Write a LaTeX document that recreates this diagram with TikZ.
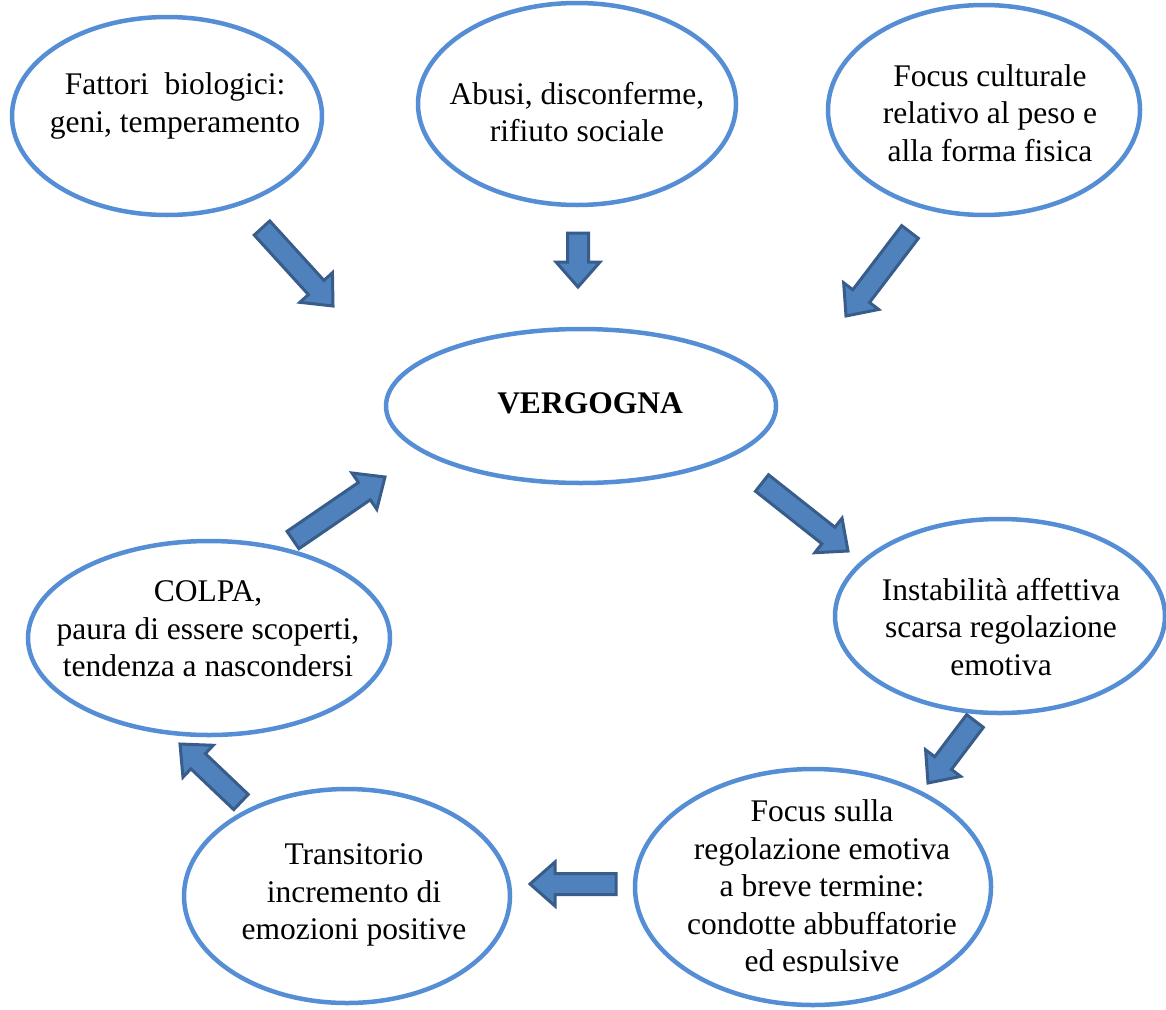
\documentclass[tikz,border=0pt]{standalone}
\usepackage{fontspec}
\setmainfont{Liberation Serif}
\usetikzlibrary{calc,shapes.geometric}
\definecolor{ringblue}{HTML}{558ED5}
\definecolor{arrowfill}{HTML}{4F81BD}
\definecolor{arrowedge}{HTML}{385D8A}
\tikzset{
  bubble/.style={ellipse, draw=ringblue, line width=4.5pt, fill=white, inner sep=0pt, outer sep=0pt},
  caption/.style={align=center, font=\fontsize{31.5}{37.5}\selectfont, inner sep=0pt},
  blockarrow/.style={draw=arrowedge, fill=arrowfill, line width=3pt, line join=miter},
}
% fat block arrow from #1 (tail centre) to #2 (tip)
\newcommand\blockarrow[2]{%
  \draw[blockarrow] let \p1=($(#2)-(#1)$), \n1={atan2(\y1,\x1)} in
    ($(#1)+({\n1+90}:10.5pt)$)
    -- ($(#2)+({\n1+180}:25pt)+({\n1+90}:10.5pt)$)
    -- ($(#2)+({\n1+180}:25pt)+({\n1+90}:22pt)$)
    -- (#2)
    -- ($(#2)+({\n1+180}:25pt)+({\n1-90}:22pt)$)
    -- ($(#2)+({\n1+180}:25pt)+({\n1-90}:10.5pt)$)
    -- ($(#1)+({\n1-90}:10.5pt)$) -- cycle;}
\begin{document}
\begin{tikzpicture}[x=1pt,y=-1pt]
\useasboundingbox (0,0) rectangle (1166,1009);
\fill[white] (0,0) rectangle (1166,1009);

% ellipses
\node[bubble, minimum width=310pt, minimum height=198pt] (bio) at (167,116) {};
\node[bubble, minimum width=318pt, minimum height=202pt] (abusi) at (577,104) {};
\node[bubble, minimum width=312pt, minimum height=210pt] (cult) at (984,110) {};
\node[bubble, minimum width=390pt, minimum height=154pt] (verg) at (581,406) {};
\node[bubble, minimum width=330pt, minimum height=194pt] (instab) at (1000,616) {};
\node[bubble, minimum width=356pt, minimum height=236pt] (focus) at (813,887) {};
\node[bubble, minimum width=326pt, minimum height=214pt] (trans) at (347,896) {};
\node[bubble, minimum width=362pt, minimum height=194pt] (colpa) at (209,638) {};

% texts
\node[caption] (tbio) at (175,106) {Fattori~ biologici:\\geni, temperamento};
\node[caption] (tabusi) at (577,112) {Abusi, disconferme,\\rifiuto sociale};
\node[caption] (tcult) at (990,113) {Focus culturale\\relativo al peso e\\alla forma fisica};
\node[caption, font=\fontsize{31.5}{37.5}\selectfont\bfseries] (tverg) at (590,403) {VERGOGNA};
\node[caption] (tinstab) at (1001,627) {Instabilità affettiva\\scarsa regolazione\\emotiva};
\begin{scope}
  \clip (620,760) rectangle (1000,972);
  \node[caption] (tfocus) at (822,889) {Focus sulla\\regolazione emotiva\\a breve termine:\\condotte abbuffatorie\\ed espulsive};
\end{scope}
\node[caption] (ttrans) at (354,895) {Transitorio\\incremento di\\emozioni positive};
\node[caption] (tcolpa) at (208,629) {COLPA,\\paura di essere scoperti,\\tendenza a nascondersi};

% arrow end points
\coordinate (a1s) at (262,228); \coordinate (a1e) at (333,306);
\coordinate (a2s) at (578,233); \coordinate (a2e) at (578,287);
\coordinate (a3s) at (910,232); \coordinate (a3e) at (846,316);
\coordinate (a4s) at (762,483); \coordinate (a4e) at (848,551);
\coordinate (a5s) at (975,721); \coordinate (a5e) at (928,783);
\coordinate (a6s) at (616,884); \coordinate (a6e) at (530,884);
\coordinate (a7s) at (241,802); \coordinate (a7e) at (180,744);
\coordinate (a8s) at (293,540); \coordinate (a8e) at (385,477);

\blockarrow{a1s}{a1e}
\blockarrow{a2s}{a2e}
\blockarrow{a3s}{a3e}
\blockarrow{a4s}{a4e}
\blockarrow{a5s}{a5e}
\blockarrow{a6s}{a6e}
\blockarrow{a7s}{a7e}
\blockarrow{a8s}{a8e}
\end{tikzpicture}
\end{document}
